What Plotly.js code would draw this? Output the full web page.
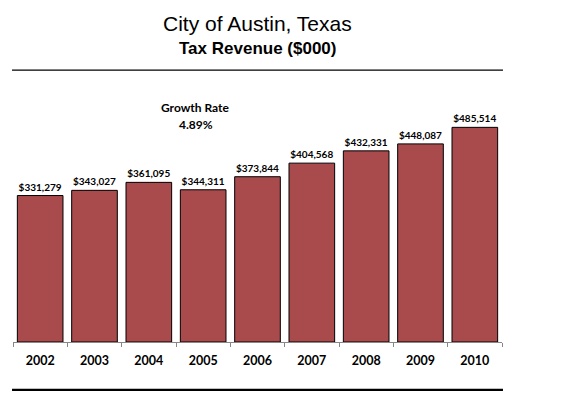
<!DOCTYPE html>
<html>
<head>
<meta charset="utf-8">
<script src="https://cdn.plot.ly/plotly-3.0.1.min.js"></script>
<style>html,body{margin:0;padding:0;background:#fff;}#chart{width:568px;height:413px;}</style>
</head>
<body>
<div id="chart"></div>
<script>
const years = ['2002','2003','2004','2005','2006','2007','2008','2009','2010'];
const revenue = [331279, 343027, 361095, 344311, 373844, 404568, 432331, 448087, 485514];
const chartTitle = 'City of Austin, Texas';
const chartSubtitle = 'Tax Revenue ($000)';
const growthLabel = 'Growth Rate';
const growthRate = '4.89%';

const labelFont = 'Lato, "Open Sans", sans-serif';

const trace = {
  type: 'bar',
  x: years,
  y: revenue,
  marker: {color: '#A94A4D', line: {color: '#000000', width: 1}},
  text: revenue.map(v => '$' + v.toLocaleString('en-US')),
  textposition: 'outside',
  cliponaxis: false,
  textfont: {family: labelFont, size: 10, color: '#000', weight: 'bold'},
  hoverinfo: 'none'
};

const layout = {
  width: 568, height: 413,
  margin: {l: 13, r: 66, t: 90, b: 71},
  paper_bgcolor: '#fff', plot_bgcolor: '#fff',
  showlegend: false,
  bargap: 0.16,
  xaxis: {
    type: 'category',
    showline: true, linecolor: '#888', linewidth: 1,
    ticks: 'outside', tickson: 'boundaries', ticklen: 4, tickcolor: '#888',
    ticklabelstandoff: 7,
    tickfont: {family: labelFont, size: 12.5, color: '#000', weight: 'bold'},
    showgrid: false, zeroline: false, fixedrange: true
  },
  yaxis: {
    range: [0, 570000], visible: false, showgrid: false, zeroline: false, fixedrange: true
  },
  annotations: [
    {text: chartTitle, xref: 'paper', yref: 'paper', x: 0.4994, y: 1.262, showarrow: false,
     xanchor: 'center', yanchor: 'middle', font: {family: 'Arial, "Liberation Sans", sans-serif', size: 21, color: '#000'}},
    {text: chartSubtitle, xref: 'paper', yref: 'paper', x: 0.4994, y: 1.165, showarrow: false,
     xanchor: 'center', yanchor: 'middle', font: {family: 'Arial, "Liberation Sans", sans-serif', size: 17, color: '#000', weight: 'bold'}},
    {text: growthLabel, xref: 'paper', yref: 'paper', x: 0.374, y: 0.929, showarrow: false,
     xanchor: 'center', yanchor: 'middle', font: {family: labelFont, size: 12, color: '#000', weight: 'bold'}},
    {text: growthRate, xref: 'paper', yref: 'paper', x: 0.374, y: 0.864, showarrow: false,
     xanchor: 'center', yanchor: 'middle', font: {family: labelFont, size: 12, color: '#000', weight: 'bold'}}
  ],
  shapes: [
    {type: 'line', xref: 'paper', yref: 'paper', x0: -0.002, x1: 1.002, y0: 1.079, y1: 1.079,
     line: {color: '#000', width: 1.3}},
    {type: 'line', xref: 'paper', yref: 'paper', x0: -0.002, x1: 1.002, y0: -0.19, y1: -0.19,
     line: {color: '#000', width: 2.2}}
  ]
};

Plotly.newPlot('chart', [trace], layout, {displayModeBar: false, staticPlot: true});
</script>
</body>
</html>
